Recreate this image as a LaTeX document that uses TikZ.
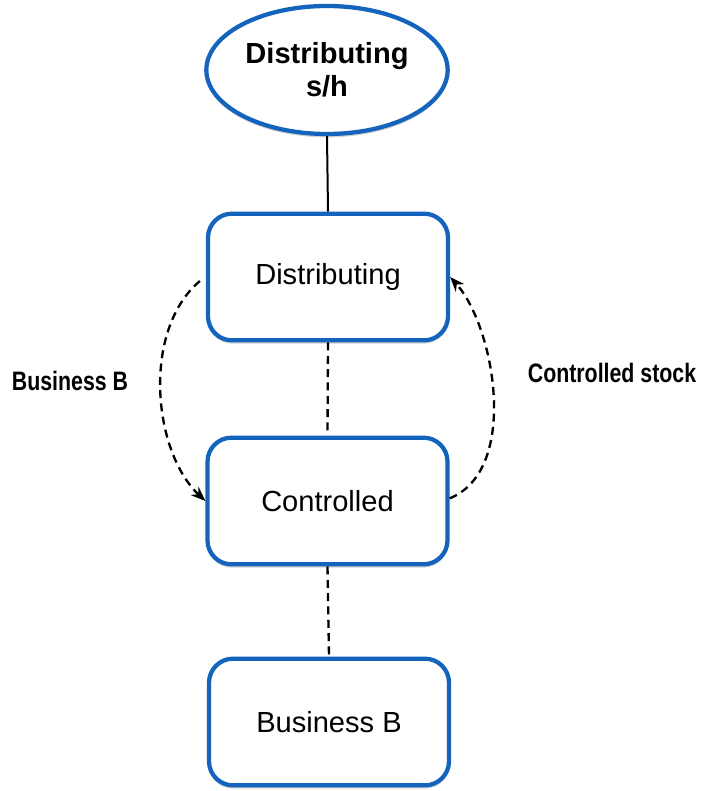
\documentclass[tikz,border=0pt]{standalone}
\usepackage{fontspec}
\setmainfont{Liberation Sans}
\newfontfamily\narrowfont[FakeStretch=0.8]{Liberation Sans Bold}
\usetikzlibrary{arrows.meta,shadows,shapes.geometric}
\definecolor{boxblue}{RGB}{20,100,190}

\begin{document}
\begin{tikzpicture}[x=0.75pt,y=-0.75pt,>={Stealth[length=11pt,width=8.5pt]},
  every text node part/.style={align=center},
  shade/.style={drop shadow={shadow xshift=0pt,shadow yshift=-2.5pt,opacity=0.3,fill=black!60}},
  state/.style={draw=boxblue,line width=3.2pt,fill=white,rounded corners=18pt,
    minimum width=180pt,minimum height=95pt,font=\fontsize{21.8}{26}\selectfont,shade},
  top/.style={ellipse,draw=boxblue,line width=3.2pt,fill=white,minimum width=181pt,
    minimum height=96pt,inner sep=0pt,font=\fontsize{21.8}{25}\selectfont\bfseries,shade},
  link/.style={line width=1.5pt},
  flow/.style={line width=1.75pt,dash pattern=on 6pt off 4pt},
  lbl/.style={font=\fontsize{20}{24}\selectfont\narrowfont}]

\useasboundingbox (0,0) rectangle (703,791);

%%%%%%%%%%%%%%%%%%%%%%%%%%%%%%%%%%%%%%

\node[top] (sh) at (327,70) {Distributing\\s/h};

\node[state] (dist) at (328,277) {Distributing};
\node[state] (ctrl) at (327.5,501) {Controlled};
\node[state] (bus) at (329,722) {Business B};

%%%%%%%%%%%%%%%%%%%%%%%%%%%%%%%%%%%%%%

\draw[link] (sh.south) -- (dist.north);
\draw[flow] (dist.south) -- (ctrl.north);
\draw[flow] (ctrl.south) -- (bus.north);

%%%%%%%%%%%%%%%%%%%%%%%%%%%%%%%%%%%%%%

\draw[flow,->] ([xshift=-4.5pt,yshift=-3pt]dist.west) .. controls +(-58,49) and +(-53,-50) .. (ctrl.west);
\draw[flow,->] ([yshift=2pt]ctrl.east) .. controls +(70,-28) and +(45,50) .. (dist.east);

\node[lbl] (lb) at (70,381) {Business B};
\node[lbl] (lc) at (612,373) {Controlled stock};

\end{tikzpicture}
\end{document}
